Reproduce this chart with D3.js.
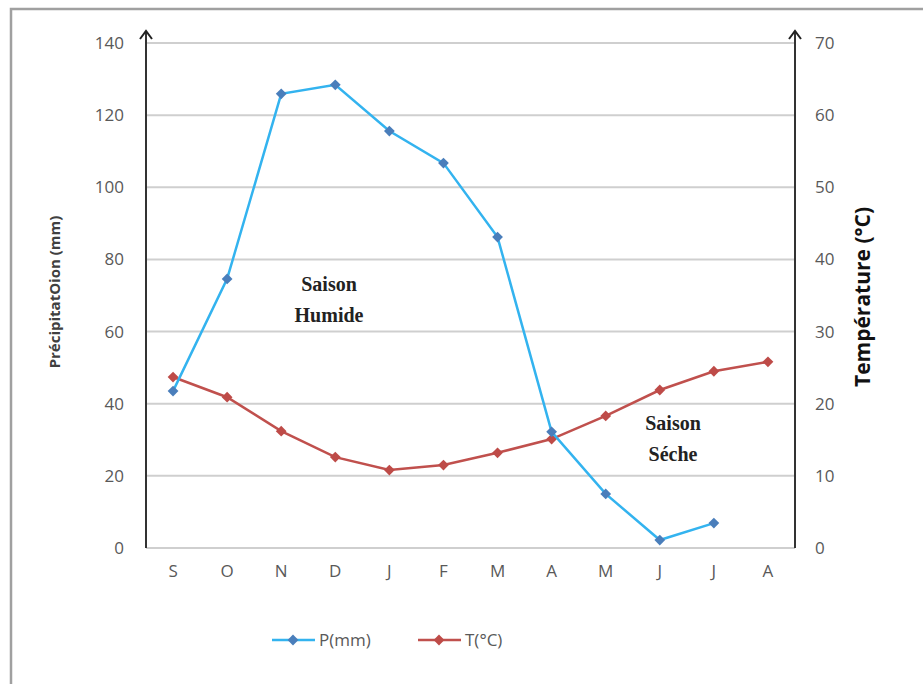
<!DOCTYPE html>
<html>
<head>
<meta charset="utf-8">
<script src="https://cdn.jsdelivr.net/npm/d3@7"></script>
<style>
  body { margin: 0; background: #fff; }
  text { font-family: "Open Sans", "Liberation Sans", sans-serif; }
</style>
</head>
<body>
<svg id="chart" width="923" height="684"></svg>
<script>
// mois (sept -> aout)
const months = ['S', 'O', 'N', 'D', 'J', 'F', 'M', 'A', 'M', 'J', 'J', 'A'];
// precipitations en mm (pas de valeur pour le dernier mois)
const precip = [43.5, 74.6, 125.9, 128.4, 115.6, 106.7, 86.2, 32.2, 15.0, 2.2, 6.9, null];
// temperatures en °C
const temp = [23.7, 20.9, 16.2, 12.6, 10.8, 11.5, 13.2, 15.1, 18.3, 21.9, 24.5, 25.8];
const precipTicks = [0, 20, 40, 60, 80, 100, 120, 140];
const tempTicks = [0, 10, 20, 30, 40, 50, 60, 70];

const svg = d3.select('#chart');

// cadre
svg.append('path')
    .attr('d', 'M11,684 V9 H923')
    .attr('fill', 'none')
    .attr('stroke', '#a0a0a0')
    .attr('stroke-width', 2.5);

const plotL = 146, plotR = 795, plotT = 43, plotB = 548;

const x = d3.scaleBand()
    .domain(d3.range(months.length))
    .range([plotL, plotR]);
const yP = d3.scaleLinear().domain([0, 140]).range([plotB, plotT]);
const yT = d3.scaleLinear().domain([0, 70]).range([plotB, plotT]);
const cx = i => x(i) + x.bandwidth() / 2;

// grille
svg.append('g').selectAll('line')
    .data(precipTicks).enter()
    .append('line')
    .attr('x1', plotL).attr('x2', plotR)
    .attr('y1', d => yP(d)).attr('y2', d => yP(d))
    .attr('stroke', '#cfcfcf')
    .attr('stroke-width', 2);

// axes avec fleches
[plotL, plotR].forEach(px => {
    svg.append('path')
        .attr('d', `M${px},${plotB} V31`)
        .attr('stroke', '#333')
        .attr('stroke-width', 2);
    svg.append('path')
        .attr('d', `M${px - 6},${39} L${px},${31} L${px + 6},${39}`)
        .attr('fill', 'none')
        .attr('stroke', '#222')
        .attr('stroke-width', 2);
});

// graduations
const axisL = d3.axisLeft(yP).tickValues(precipTicks).tickSize(0).tickPadding(22);
const gL = svg.append('g').attr('transform', `translate(${plotL},0)`).call(axisL);
const axisR = d3.axisRight(yT).tickValues(tempTicks).tickSize(0).tickPadding(20);
const gR = svg.append('g').attr('transform', `translate(${plotR},0)`).call(axisR);
const axisB = d3.axisBottom(x).tickFormat(i => months[i]).tickSize(0).tickPadding(17);
const gB = svg.append('g').attr('transform', `translate(0,${plotB})`).call(axisB);
[gL, gR, gB].forEach(g => {
    g.select('.domain').remove();
    g.selectAll('text')
        .style('font-family', '"Open Sans", "Liberation Sans", sans-serif')
        .style('font-size', '17px')
        .attr('fill', '#595959');
});

// titres des axes
svg.append('text')
    .attr('transform', 'translate(60,292) rotate(-90)')
    .attr('text-anchor', 'middle')
    .style('font-size', '15px')
    .style('font-weight', 'bold')
    .attr('fill', '#404040')
    .text('PrécipitatOion (mm)');

svg.append('text')
    .attr('transform', 'translate(870,297) rotate(-90)')
    .attr('text-anchor', 'middle')
    .style('font-size', '21px')
    .style('font-weight', 'bold')
    .attr('fill', '#111')
    .text('Température (°C)');

// courbes
const colP = '#33b3ef', markP = '#4a7ebb';
const colT = '#c0504d', markT = '#be4b48';

const lineP = d3.line()
    .defined(d => d != null)
    .x((d, i) => cx(i))
    .y(d => yP(d));
const lineT = d3.line()
    .x((d, i) => cx(i))
    .y(d => yT(d));

// losange carre (carre tourne de 45°)
const diamond = d3.symbol().type(d3.symbolSquare).size(58);

svg.append('path')
    .datum(temp)
    .attr('d', lineT)
    .attr('fill', 'none')
    .attr('stroke', colT)
    .attr('stroke-width', 2.5);
svg.append('g').selectAll('path')
    .data(temp).enter()
    .append('path')
    .attr('d', diamond)
    .attr('transform', (d, i) => `translate(${cx(i)},${yT(d)}) rotate(45)`)
    .attr('fill', markT);

svg.append('path')
    .datum(precip)
    .attr('d', lineP)
    .attr('fill', 'none')
    .attr('stroke', colP)
    .attr('stroke-width', 2.5);
svg.append('g').selectAll('path')
    .data(precip.map((v, i) => ({v, i})).filter(d => d.v != null)).enter()
    .append('path')
    .attr('d', diamond)
    .attr('transform', d => `translate(${cx(d.i)},${yP(d.v)}) rotate(45)`)
    .attr('fill', markP);

// annotations
function label(xc, y1, lines) {
    lines.forEach((t, k) => {
        svg.append('text')
            .attr('x', xc).attr('y', y1 + k * 31)
            .attr('text-anchor', 'middle')
            .style('font-family', '"Liberation Serif", "DejaVu Serif", serif')
            .style('font-size', '20px')
            .style('font-weight', 'bold')
            .attr('fill', '#222')
            .text(t);
    });
}
label(329, 291, ['Saison', 'Humide']);
label(673, 430, ['Saison', 'Séche']);

// legende
const legend = [
    {name: 'P(mm)', line: colP, mark: markP, x: 272},
    {name: 'T(°C)', line: colT, mark: markT, x: 418}
];
const lg = svg.append('g').selectAll('g')
    .data(legend).enter()
    .append('g')
    .attr('transform', d => `translate(${d.x},640)`);
lg.append('line')
    .attr('x1', 0).attr('x2', 43)
    .attr('stroke', d => d.line)
    .attr('stroke-width', 2.5);
lg.append('path')
    .attr('d', diamond)
    .attr('transform', 'translate(21,0) rotate(45)')
    .attr('fill', d => d.mark);
lg.append('text')
    .attr('x', 47).attr('y', 6)
    .style('font-size', '17px')
    .attr('fill', '#595959')
    .text(d => d.name);
</script>
</body>
</html>
